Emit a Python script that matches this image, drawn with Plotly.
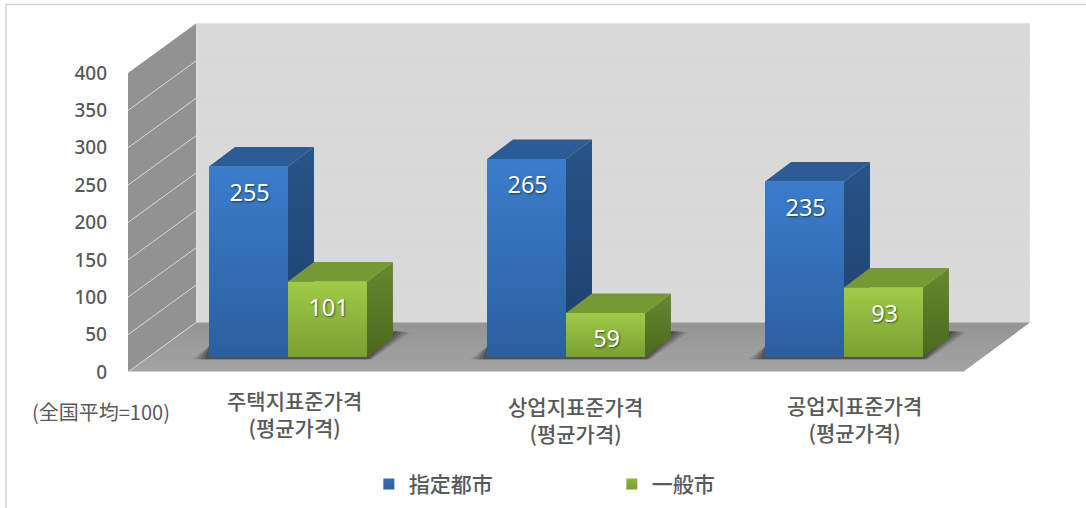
import plotly.graph_objects as go

# values
categories = ['주택지표준가격<br>(평균가격)', '상업지표준가격<br>(평균가격)', '공업지표준가격<br>(평균가격)']
series_names = ['指定都市', '一般市']
series_values = [[255, 265, 235], [101, 59, 93]]
value_ticks = [0, 50, 100, 150, 200, 250, 300, 350, 400]
note_text = '(全国平均=100)'

# oblique projection, in axis units
BAR_W = 0.284
DEPTH_X = 0.2446     # full floor depth
DEPTH_Y = 66.2
BAR_DX = 0.0935      # depth of one bar
BAR_DY = 26
FLOOR = 20           # bars stand a little behind the front edge of the floor
X0, X1 = -0.5755, 2.669
Y1 = 466.9
FLOOR_LEFT, FLOOR_RIGHT = X0, 2.428

FONT = 'Noto Sans CJK KR, Noto Sans'
GREY = '#595959'

colors = [
    dict(front=['#3b7dcc', '#2b5f9f'], top='#2b5c96', side=['#285487', '#1d3f6b'], solid='#3570b5'),
    dict(front=['#a0cb47', '#7b9f32'], top='#769a33', side=['#648a2e', '#4b691e'], solid='#8db53c'),
]


def poly(xs, ys):
    return 'M ' + ' L '.join(f'{x},{y}' for x, y in zip(xs, ys)) + ' Z'


shapes = []
# back wall
shapes.append(dict(type='rect', layer='below', x0=FLOOR_LEFT + DEPTH_X, x1=X1, y0=DEPTH_Y, y1=400 + DEPTH_Y,
                   fillcolor='#d9d9d9', line=dict(color='#e2e2e2', width=1)))
# left wall
shapes.append(dict(type='path', layer='below',
                   path=poly([FLOOR_LEFT, FLOOR_LEFT + DEPTH_X, FLOOR_LEFT + DEPTH_X, FLOOR_LEFT],
                             [0, DEPTH_Y, 400 + DEPTH_Y, 400]),
                   fillcolor='#929292', line_width=0))
# floor, darker towards the back
shapes.append(dict(type='path', layer='below',
                   path=poly([FLOOR_LEFT, FLOOR_RIGHT, X1, FLOOR_LEFT + DEPTH_X], [0, 0, DEPTH_Y, DEPTH_Y]),
                   fillcolor='#a3a3a3', line_width=0))
for frac in (0.12, 0.25, 0.38, 0.5, 0.62, 0.75, 0.88):
    shapes.append(dict(type='path', layer='below',
                       path=poly([FLOOR_LEFT + DEPTH_X * frac, FLOOR_RIGHT + DEPTH_X * frac, X1,
                                  FLOOR_LEFT + DEPTH_X],
                                 [DEPTH_Y * frac, DEPTH_Y * frac, DEPTH_Y, DEPTH_Y]),
                       fillcolor='rgba(0,0,0,0.012)', line_width=0))
# grid lines on both walls
for v in value_ticks[1:-1]:
    shapes.append(dict(type='line', layer='below', x0=FLOOR_LEFT, x1=FLOOR_LEFT + DEPTH_X, y0=v, y1=v + DEPTH_Y,
                       line=dict(color='#d9d9d9', width=1)))
    shapes.append(dict(type='line', layer='below', x0=FLOOR_LEFT + DEPTH_X, x1=X1, y0=v + DEPTH_Y, y1=v + DEPTH_Y,
                       line=dict(color='#d7d7d7', width=1)))
shapes.append(dict(type='line', layer='below', x0=FLOOR_LEFT, x1=FLOOR_LEFT + DEPTH_X, y0=0, y1=DEPTH_Y,
                   line=dict(color='#d9d9d9', width=1)))
shapes.append(dict(type='line', layer='below', x0=FLOOR_LEFT, x1=FLOOR_RIGHT, y0=0, y1=0,
                   line=dict(color='#dcdcdc', width=1.5)))
# soft shadow under each pair of bars
for i in range(len(categories)):
    for grow, alpha in [(0.06, 0.14), (0.045, 0.18), (0.03, 0.22), (0.015, 0.26)]:
        shapes.append(dict(type='path', layer='below',
                           path=poly([i - BAR_W - grow, i + BAR_W + grow * 0.3, i + BAR_W + BAR_DX + grow,
                                      i + BAR_W + BAR_DX + grow * 0.4, i - BAR_W],
                                     [FLOOR - 3, FLOOR - 3, FLOOR + BAR_DY + 7, FLOOR + BAR_DY + 9, FLOOR + 14]),
                           fillcolor=f'rgba(30,30,30,{alpha})', line_width=0))
# outer frame of the slide
shapes.append(dict(type='line', xref='paper', yref='paper', x0=-0.1353, x1=-0.1353, y0=-0.39, y1=1.053,
                   line=dict(color='#d2d2d2', width=1.5)))
shapes.append(dict(type='line', xref='paper', yref='paper', x0=-0.1353, x1=1.07, y0=1.053, y1=1.053,
                   line=dict(color='#d2d2d2', width=1.5)))

fig = go.Figure()


def face(xs, ys, col):
    kw = dict(fillcolor=col) if isinstance(col, str) else dict(
        fillgradient=dict(type='vertical', colorscale=[[0, col[1]], [1, col[0]]]))
    fig.add_trace(go.Scatter(x=xs + xs[:1], y=ys + ys[:1], mode='lines', fill='toself', line_width=0,
                             hoverinfo='skip', showlegend=False, **kw))


for s, (name, vals) in enumerate(zip(series_names, series_values)):
    off = -BAR_W / 2 if s == 0 else BAR_W / 2
    fig.add_trace(go.Bar(x=[i + off for i in range(len(vals))], y=vals, base=FLOOR, width=BAR_W, name=name,
                         marker_color=colors[s]['solid'], marker_line_width=0, showlegend=False))

for s, vals in enumerate(series_values):
    off = -BAR_W if s == 0 else 0
    c = colors[s]
    for i, v in enumerate(vals):
        left, right = i + off, i + off + BAR_W
        top = FLOOR + v
        face([right, right + BAR_DX, right + BAR_DX, right], [FLOOR, FLOOR + BAR_DY, top + BAR_DY, top], c['side'])
        face([left, right, right + BAR_DX, left + BAR_DX], [top, top, top + BAR_DY, top + BAR_DY], c['top'])
        face([left, right, right, left], [FLOOR, FLOOR, top, top], c['front'])

# value labels inside the top of each bar
for s, vals in enumerate(series_values):
    off = -BAR_W / 2 if s == 0 else BAR_W / 2
    fig.add_trace(go.Scatter(
        x=[i + off + 0.004 for i in range(len(vals))], y=[FLOOR + v - 38 for v in vals],
        mode='text', text=[str(v) for v in vals], showlegend=False, hoverinfo='skip',
        textfont=dict(family='Noto Sans', size=23.5, color='white', shadow='1px 1px 2px rgba(0,0,0,0.55)')))

# legend entries
for s, name in enumerate(series_names):
    fig.add_trace(go.Scatter(x=[None], y=[None], mode='markers', name=name,
                             marker=dict(symbol='square', size=11, color=colors[s]['solid'],
                                         gradient=dict(type='vertical', color=colors[s]['front'][1]))))

fig.add_annotation(text=note_text, xref='paper', yref='paper', x=-0.03, y=-0.112, xanchor='center', yanchor='middle',
                   showarrow=False, font=dict(family='Noto Sans CJK JP', size=20, color=GREY))

# category labels sit a little unevenly in the original
label_x = [0.025, 0.0325, 0.0395]
label_y = [-0.119, -0.136, -0.133]
for i, cat in enumerate(categories):
    fig.add_annotation(text=cat, x=i + label_x[i], xref='x', yref='paper', y=label_y[i], xanchor='center',
                       yanchor='middle', showarrow=False, align='center',
                       font=dict(size=21, family=FONT, color=GREY, weight=500))

fig.update_layout(
    width=1086, height=508,
    margin=dict(l=128, r=56, t=23, b=136, autoexpand=False),
    paper_bgcolor='white', plot_bgcolor='rgba(0,0,0,0)',
    barmode='overlay',
    shapes=shapes,
    font=dict(family=FONT, color=GREY),
    legend=dict(orientation='h', x=0.267, y=-0.322, xanchor='left', yanchor='middle',
                entrywidth=198, entrywidthmode='pixels', font=dict(size=21, family=FONT, color=GREY, weight=500)),
)
fig.update_xaxes(range=[X0, X1], showticklabels=False, showgrid=False, zeroline=False, showline=False, ticks='')
fig.update_yaxes(range=[0, Y1], tickmode='array', tickvals=value_ticks, showgrid=False, zeroline=False, showline=False,
                 ticks='', ticklabelstandoff=20, tickfont=dict(size=19, family='Noto Sans', color=GREY, weight=500))

fig.write_html('out.html', config={'displayModeBar': False}, post_script="document.body.style.margin='0';")
